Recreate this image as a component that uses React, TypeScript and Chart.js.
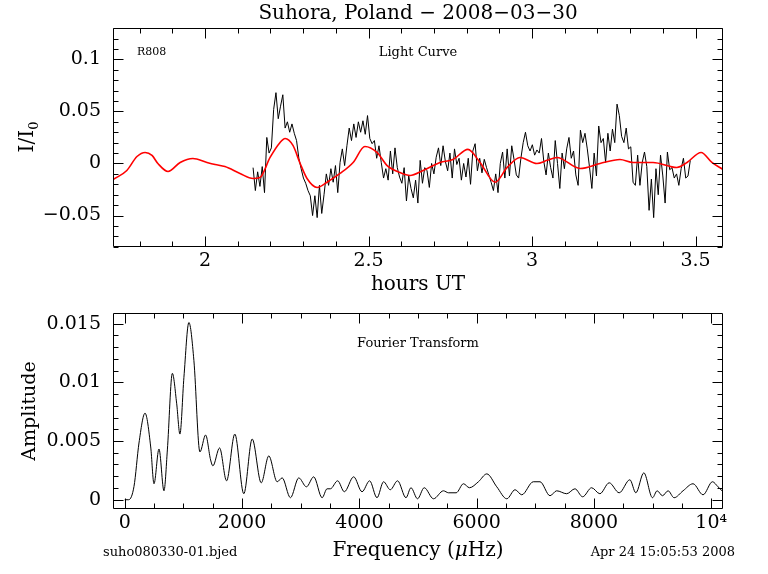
import React, { useEffect, useRef } from 'react';
import { Chart, registerables } from 'chart.js';

Chart.register(...registerables);

// ---------- Light curve (top panel) ----------
const LC_START_HOUR = 2.147;
const LC_CADENCE_HOUR = 0.007;
const LC_FLUX = [
  -0.004, -0.026, -0.008, -0.022, -0.003, -0.028, 0.025, 0.010, 0.015, 0.052,
  0.068, 0.043, 0.055, 0.066, 0.034, 0.040, 0.030, 0.038, 0.029, 0.022,
  0.005, -0.005, -0.014, -0.019, -0.026, -0.031, -0.050, -0.031, -0.052, -0.021,
  -0.048, -0.030, -0.010, -0.021, -0.005, -0.018, -0.002, -0.028, 0.001, 0.014,
  -0.002, 0.017, 0.034, 0.022, 0.038, 0.025, 0.040, 0.030, 0.041, 0.028,
  0.046, 0.024, 0.019, 0.022, 0.005, 0.017, 0.001, -0.014, -0.005, -0.016,
  0.012, -0.010, 0.015, -0.004, -0.013, -0.019, -0.004, -0.036, -0.012, -0.024,
  -0.033, -0.016, -0.038, 0.003, -0.019, -0.004, -0.007, -0.023, 0.000, -0.010,
  0.006, 0.015, -0.002, 0.017, 0.002, -0.007, 0.010, -0.014, 0.014, -0.001,
  0.005, -0.016, 0.000, -0.013, 0.005, -0.020, 0.012, 0.019, -0.007, 0.005,
  -0.009, 0.004, -0.004, -0.011, -0.018, -0.026, -0.010, -0.028, 0.000, 0.011,
  -0.014, 0.014, -0.012, 0.017, 0.004, -0.011, -0.014, 0.005, 0.020, 0.030,
  0.017, 0.012, 0.018, 0.008, 0.013, 0.010, 0.024, 0.002, -0.011, 0.010,
  -0.004, -0.014, 0.022, 0.000, -0.024, 0.010, -0.005, 0.014, 0.025, 0.005,
  0.012, -0.011, -0.021, 0.032, 0.020, 0.029, 0.014, -0.004, -0.024, 0.010,
  -0.012, 0.036, 0.020, 0.024, 0.001, 0.029, 0.012, 0.033, 0.020, 0.057,
  0.046, 0.026, 0.020, 0.034, 0.014, 0.016, -0.018, -0.021, 0.008, -0.021,
  0.001, 0.011, -0.003, -0.045, -0.015, -0.052, -0.005, -0.030, 0.008, -0.012,
  -0.038, 0.011, -0.006, -0.004, -0.014, -0.010, -0.021, -0.005, 0.005, -0.014,
  -0.012, 0.003,
];

const FIT_HOURS = [
  1.719, 1.761, 1.792, 1.817, 1.838, 1.856, 1.887, 1.924, 1.963, 2.006,
  2.031, 2.061, 2.107, 2.147, 2.168, 2.199, 2.229, 2.245, 2.269, 2.291,
  2.312, 2.343, 2.373, 2.413, 2.453, 2.489, 2.526, 2.557, 2.596, 2.627,
  2.667, 2.719, 2.758, 2.804, 2.841, 2.887, 2.924, 2.963, 3.015, 3.046,
  3.076, 3.147, 3.208, 3.269, 3.309, 3.370, 3.443, 3.474, 3.517, 3.550,
  3.584,
];
const FIT_FLUX = [
  -0.0154, -0.0067, 0.0067, 0.0106, 0.0077, 0.0, -0.0077, 0.001, 0.0048, 0.001,
  -0.001, -0.003, -0.0096, -0.0144, -0.0135, 0.0058, 0.020, 0.024, 0.0173, 0.0,
  -0.0144, -0.023, -0.018, -0.0096, 0.001, 0.0163, 0.0106, -0.002, -0.0087, -0.0115,
  -0.0067, 0.001, 0.0038, 0.0135, 0.001, -0.018, -0.0038, 0.0058, 0.0, 0.003,
  0.0058, -0.0048, 0.0, 0.0038, 0.001, 0.001, -0.0038, 0.001, 0.0106, 0.001,
  -0.0058,
];

// ---------- Fourier transform (bottom panel) ----------
const FT_FREQ = [
  0, 68, 158, 243, 346, 443, 499, 584, 669, 727,
  812, 885, 941, 1009, 1094, 1179, 1282, 1379, 1464, 1503,
  1617, 1736, 1877, 2030, 2173, 2327, 2456, 2599, 2684, 2825,
  2967, 3098, 3222, 3365, 3450, 3506, 3630, 3744, 3903, 4046,
  4175, 4301, 4413, 4527, 4652, 4795, 4880, 4992, 5106, 5264,
  5434, 5520, 5651, 5775, 5877, 6030, 6173, 6343, 6514, 6655,
  6769, 6966, 7080, 7251, 7364, 7535, 7676, 7807, 7960, 8101,
  8260, 8430, 8612, 8714, 8850, 8998, 9077, 9168, 9264, 9366,
  9519, 9689, 9860, 10020, 10115, 10200,
];
const FT_AMP = [
  0, 0, 0.00113, 0.00483, 0.00737, 0.00449, 0.00136, 0.00432, 0.00076, 0.00424,
  0.01076, 0.00822, 0.00559, 0.01042, 0.01509, 0.01187, 0.00407, 0.00551, 0.00339, 0.00288,
  0.00441, 0.00161, 0.00559, 0.00051, 0.00517, 0.00144, 0.00373, 0.00153, 0.00186, 0.00017,
  0.00186, 0.0011, 0.00195, 0.00017, 0.00093, 0.00093, 0.00161, 0.00068, 0.00195, 0.00068,
  0.00161, 0.00017, 0.00153, 0.00085, 0.00161, 0.00017, 0.00102, 0.00008, 0.00102, 0.00008,
  0.00076, 0.00059, 0.00059, 0.00136, 0.00102, 0.00153, 0.0022, 0.0011, 0.00008, 0.00085,
  0.00042, 0.00153, 0.00153, 0.00034, 0.00076, 0.00051, 0.00093, 0.00025, 0.00102, 0.00051,
  0.00144, 0.00059, 0.0017, 0.00059, 0.00229, 0.00017, 0.00076, 0.00034, 0.00076, 0.00017,
  0.00076, 0.00136, 0.00042, 0.00153, 0.0011, 0.00068,
];

// ---------- Tick labels ----------
const LC_X_TICKS = [2, 2.5, 3, 3.5];
const LC_X_LABELS = ['2', '2.5', '3', '3.5'];
const LC_Y_TICKS = [-0.05, 0, 0.05, 0.1];
const LC_Y_LABELS = ['\u22120.05', '0', '0.05', '0.1'];
const FT_X_TICKS = [0, 2000, 4000, 6000, 8000, 10000];
const FT_X_LABELS = ['0', '2000', '4000', '6000', '8000', '10\u2074'];
const FT_Y_TICKS = [0, 0.005, 0.01, 0.015];
const FT_Y_LABELS = ['0', '0.005', '0.01', '0.015'];

const FONT = "'DejaVu Serif', serif";
const W = 768;
const H = 574;

function makeAxis(
  min: number, max: number, ticks: number[], labels: string[],
  fitSize: number, horizontal: boolean, padding: number,
) {
  return {
    type: 'linear' as const,
    min,
    max,
    grid: { display: false, drawTicks: false },
    border: { display: false },
    afterBuildTicks: (s: any) => {
      s.ticks = ticks.map((v) => ({ value: v }));
    },
    afterFit: (s: any) => {
      if (horizontal) s.height = fitSize;
      else s.width = fitSize;
    },
    ticks: {
      autoSkip: false,
      maxRotation: 0,
      minRotation: 0,
      padding,
      color: '#000',
      font: { family: FONT, size: 19 },
      callback: (v: any) => {
        const i = ticks.findIndex((t) => Math.abs(t - Number(v)) < 1e-9);
        return i >= 0 ? labels[i] : '';
      },
    },
  };
}

const framePlugin = {
  id: 'frameTicks',
  afterDraw(chart: any, _args: any, opts: any) {
    const { ctx, chartArea } = chart;
    const xs = chart.scales.x;
    const ys = chart.scales.y;
    const L = Math.round(chartArea.left) + 0.5;
    const R = Math.round(chartArea.right) - 0.5;
    const T = Math.round(chartArea.top) + 0.5;
    const B = Math.round(chartArea.bottom) - 0.5;
    const MAJ = 10;
    const MIN = 5;
    ctx.save();
    ctx.strokeStyle = '#000';
    ctx.lineWidth = 1;
    ctx.beginPath();
    ctx.rect(L, T, R - L, B - T);
    const k0x = Math.ceil(xs.min / opts.xMinor - 1e-6);
    const k1x = Math.floor(xs.max / opts.xMinor + 1e-6);
    for (let k = k0x; k <= k1x; k++) {
      const p = Math.round(xs.getPixelForValue(k * opts.xMinor)) + 0.5;
      const len = k % opts.xEvery === 0 ? MAJ : MIN;
      ctx.moveTo(p, B);
      ctx.lineTo(p, B - len);
      ctx.moveTo(p, T);
      ctx.lineTo(p, T + len);
    }
    const k0y = Math.ceil(ys.min / opts.yMinor - 1e-6);
    const k1y = Math.floor(ys.max / opts.yMinor + 1e-6);
    for (let k = k0y; k <= k1y; k++) {
      const p = Math.round(ys.getPixelForValue(k * opts.yMinor)) + 0.5;
      const len = k % opts.yEvery === 0 ? MAJ : MIN;
      ctx.moveTo(L, p);
      ctx.lineTo(L + len, p);
      ctx.moveTo(R, p);
      ctx.lineTo(R - len, p);
    }
    ctx.stroke();
    ctx.restore();
  },
};

function Txt(props: { x: number; y: number; size: number; align?: 'left' | 'center' | 'right'; rotate?: boolean; children: any }) {
  const { x, y, size, align = 'center', rotate = false, children } = props;
  const tx = align === 'left' ? '0' : align === 'right' ? '-100%' : '-50%';
  return (
    <div
      style={{
        position: 'absolute',
        left: x,
        top: y,
        transform: `translate(${tx}, -50%)${rotate ? ' rotate(-90deg)' : ''}`,
        fontFamily: FONT,
        fontSize: size,
        lineHeight: 1,
        whiteSpace: 'nowrap',
        color: '#000',
      }}
    >
      {children}
    </div>
  );
}

export default function App() {
  const topRef = useRef<HTMLCanvasElement | null>(null);
  const botRef = useRef<HTMLCanvasElement | null>(null);

  useEffect(() => {
    const lcData = LC_FLUX.map((v, i) => ({ x: LC_START_HOUR + i * LC_CADENCE_HOUR, y: v }));
    const fitData = FIT_HOURS.map((h, i) => ({ x: h, y: FIT_FLUX[i] }));
    const ftData = FT_FREQ.map((f, i) => ({ x: f, y: FT_AMP[i] }));

    const top = new Chart(topRef.current as HTMLCanvasElement, {
      type: 'line',
      data: {
        datasets: [
          {
            data: fitData,
            borderColor: '#ff0000',
            borderWidth: 1.6,
            pointRadius: 0,
            cubicInterpolationMode: 'monotone',
            fill: false,
          },
          {
            data: lcData,
            borderColor: '#000000',
            borderWidth: 1,
            pointRadius: 0,
            tension: 0,
            fill: false,
          },
        ],
      },
      options: {
        animation: false,
        responsive: false,
        maintainAspectRatio: false,
        devicePixelRatio: 1,
        events: [],
        layout: { padding: { top: 28, right: W - 723, left: 0, bottom: 0 } },
        plugins: {
          legend: { display: false },
          tooltip: { enabled: false },
          frameTicks: { xMinor: 0.1, xEvery: 5, yMinor: 0.01, yEvery: 5 },
        } as any,
        scales: {
          x: makeAxis(1.7187, 3.584, LC_X_TICKS, LC_X_LABELS, H - 247, true, 3),
          y: makeAxis(-0.0802, 0.1301, LC_Y_TICKS, LC_Y_LABELS, 113, false, 12),
        },
      },
      plugins: [framePlugin],
    });

    const bot = new Chart(botRef.current as HTMLCanvasElement, {
      type: 'line',
      data: {
        datasets: [
          {
            data: ftData,
            borderColor: '#000000',
            borderWidth: 1,
            pointRadius: 0,
            cubicInterpolationMode: 'monotone',
            fill: false,
          },
        ],
      },
      options: {
        animation: false,
        responsive: false,
        maintainAspectRatio: false,
        devicePixelRatio: 1,
        events: [],
        layout: { padding: { top: 313, right: W - 723, left: 0, bottom: 0 } },
        plugins: {
          legend: { display: false },
          tooltip: { enabled: false },
          frameTicks: { xMinor: 500, xEvery: 4, yMinor: 0.001, yEvery: 5 },
        } as any,
        scales: {
          x: makeAxis(-200, 10200, FT_X_TICKS, FT_X_LABELS, H - 509, true, 3),
          y: makeAxis(-0.00079, 0.0159, FT_Y_TICKS, FT_Y_LABELS, 113, false, 12),
        },
      },
      plugins: [framePlugin],
    });

    return () => {
      top.destroy();
      bot.destroy();
    };
  }, []);

  return (
    <div style={{ position: 'absolute', left: 0, top: 0, width: W, height: H, background: '#fff', overflow: 'hidden' }}>
      <canvas ref={topRef} width={W} height={H} style={{ position: 'absolute', left: 0, top: 0, width: W, height: H }} />
      <canvas ref={botRef} width={W} height={H} style={{ position: 'absolute', left: 0, top: 0, width: W, height: H }} />
      <Txt x={418} y={12} size={20}>Suhora, Poland {'\u2212'} 2008{'\u2212'}03{'\u2212'}30</Txt>
      <Txt x={137} y={51} size={11} align="left">R808</Txt>
      <Txt x={418} y={51} size={13}>Light Curve</Txt>
      <Txt x={418} y={283} size={20}>hours UT</Txt>
      <Txt x={28} y={137} size={20} rotate>
        I/I<sub style={{ fontSize: 13, verticalAlign: '-0.35em' }}>0</sub>
      </Txt>
      <Txt x={418} y={342} size={13}>Fourier Transform</Txt>
      <Txt x={28} y={411} size={19} rotate>Amplitude</Txt>
      <Txt x={418} y={549} size={20}>
        Frequency (<i>{'\u03bc'}</i>Hz)
      </Txt>
      <Txt x={103} y={551} size={13} align="left">suho080330-01.bjed</Txt>
      <Txt x={735} y={551} size={13} align="right">Apr 24 15:05:53 2008</Txt>
    </div>
  );
}
